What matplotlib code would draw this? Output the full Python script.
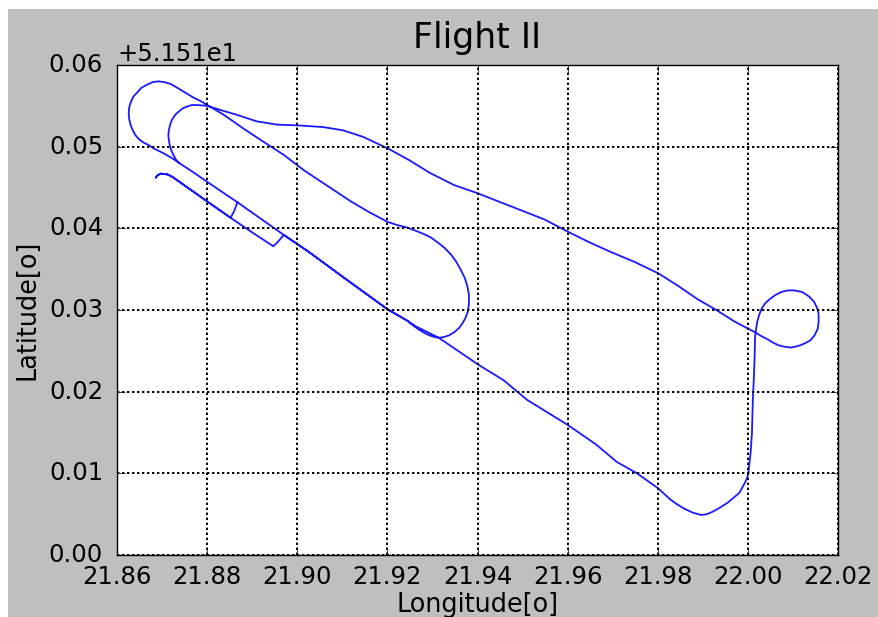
#!/usr/bin/env python3
# -*- coding: utf-8 -*-
"""
Flight II - ground track (longitude / latitude)
"""

import matplotlib
matplotlib.use("Agg")
import matplotlib.pyplot as plt
from matplotlib.patches import Rectangle
from matplotlib.ticker import ScalarFormatter, MultipleLocator

plt.style.use("classic")

# latitude offset used by the y axis formatter
LAT_BASE = 51.51

# track points, in flight order (lon, lat - LAT_BASE)
lon = [
    # taxi: connector 1, runway end with hook, back along the lower line
    21.8867, 21.8860, 21.8852, 21.8800, 21.8723, 21.8712, 21.8697, 21.8690, 21.8686,
    21.8690, 21.8697, 21.8712, 21.8723, 21.8800, 21.8852, 21.8900, 21.8947,
    # connector 2, then take-off run
    21.8958, 21.8970, 21.9026, 21.9100, 21.9200, 21.9244,
    # middle loop
    21.9257, 21.9270, 21.9282, 21.9293, 21.9304, 21.9315, 21.9326, 21.9337, 21.9349,
    21.9359, 21.9367, 21.9374, 21.9379, 21.9381, 21.9381, 21.9378, 21.9372, 21.9363,
    21.9353, 21.9341, 21.9327, 21.9311, 21.9296, 21.9281, 21.9263, 21.9244, 21.9222,
    21.9200, 21.9159, 21.9119, 21.9059, 21.9015, 21.8970, 21.8925, 21.8881, 21.8837,
    21.8800,
    # outer loop (north-west)
    21.8785, 21.8770, 21.8755, 21.8740, 21.8728, 21.8718, 21.8705, 21.8692, 21.8679,
    21.8667, 21.8654, 21.8644, 21.8636, 21.8631, 21.8627, 21.8626, 21.8627, 21.8630,
    21.8635, 21.8641, 21.8649, 21.8659, 21.8670, 21.8681, 21.8692, 21.8703, 21.8722,
    21.8738,
    # inner loop and long leg to the east
    21.8731, 21.8725, 21.8720, 21.8717, 21.8715, 21.8714, 21.8715, 21.8718, 21.8722,
    21.8729, 21.8737, 21.8746, 21.8755, 21.8766, 21.8777, 21.8800, 21.8829, 21.8866,
    21.8910, 21.8955, 21.9003, 21.9057, 21.9102, 21.9146, 21.9204, 21.9250, 21.9294,
    21.9348, 21.9400, 21.9474, 21.9548, 21.9600, 21.9644, 21.9696, 21.9748, 21.9801,
    21.9844, 21.9889, 21.9930, 21.9970, 22.0015,
    # east loop
    22.0030, 22.0044, 22.0056, 22.0067, 22.0081, 22.0096, 22.0112, 22.0126, 22.0139,
    22.0148, 22.0155, 22.0157, 22.0157, 22.0154, 22.0147, 22.0137, 22.0121, 22.0103,
    22.0088, 22.0074, 22.0060, 22.0048, 22.0038, 22.0031, 22.0025, 22.0021, 22.0018,
    22.0016,
    # south leg, south turn, return leg
    22.0015, 22.0013, 22.0011, 22.0009, 22.0006, 22.0001, 21.9998, 21.9993, 21.9987,
    21.9981, 21.9968, 21.9955, 21.9938, 21.9922, 21.9909, 21.9896, 21.9877, 21.9858,
    21.9843, 21.9828, 21.9814, 21.9800, 21.9754, 21.9709, 21.9664, 21.9601, 21.9510,
    21.9458, 21.9402, 21.9314, 21.9263, 21.9244,
    # landing along the runway, back to the taxi lines
    21.9200, 21.9100, 21.9026, 21.8970, 21.8867, 21.8800, 21.8763, 21.8738,
]
lat = [
    0.0432, 0.0421, 0.0413, 0.0433, 0.0463, 0.0466, 0.0467, 0.0465, 0.0462,
    0.0465, 0.0467, 0.0466, 0.0463, 0.0433, 0.0413, 0.0395, 0.0378,
    0.0384, 0.0392, 0.0371, 0.0341, 0.0301, 0.0287,
    0.0281, 0.0276, 0.0272, 0.0269, 0.0267, 0.0266, 0.0267, 0.0269, 0.0273,
    0.0278, 0.0284, 0.0291, 0.0299, 0.0308, 0.0318, 0.0328, 0.0339, 0.0349,
    0.0359, 0.0368, 0.0376, 0.0383, 0.0389, 0.0393, 0.0397, 0.0401, 0.0404,
    0.0408, 0.0420, 0.0433, 0.0455, 0.0471, 0.0490, 0.0506, 0.0522, 0.0539,
    0.0551,
    0.0556, 0.0560, 0.0565, 0.0570, 0.0574, 0.0577, 0.0579, 0.0580, 0.0579,
    0.0576, 0.0572, 0.0566, 0.0561, 0.0555, 0.0548, 0.0541, 0.0534, 0.0527,
    0.0520, 0.0514, 0.0509, 0.0505, 0.0502, 0.0498, 0.0495, 0.0492, 0.0486,
    0.0480,
    0.0484, 0.0490, 0.0496, 0.0502, 0.0508, 0.0514, 0.0520, 0.0527, 0.0533,
    0.0539, 0.0543, 0.0547, 0.0549, 0.0551, 0.0551, 0.0550, 0.0545, 0.0539,
    0.0531, 0.0527, 0.0526, 0.0524, 0.0520, 0.0512, 0.0497, 0.0483, 0.0468,
    0.0453, 0.0443, 0.0427, 0.0411, 0.0396, 0.0384, 0.0371, 0.0359, 0.0345,
    0.0330, 0.0313, 0.0300, 0.0286, 0.0273,
    0.0268, 0.0264, 0.0260, 0.0257, 0.0255, 0.0254, 0.0256, 0.0259, 0.0263,
    0.0269, 0.0277, 0.0286, 0.0295, 0.0302, 0.0310, 0.0316, 0.0322, 0.0324,
    0.0324, 0.0322, 0.0318, 0.0313, 0.0308, 0.0302, 0.0294, 0.0286, 0.0276,
    0.0267,
    0.0243, 0.0214, 0.0190, 0.0149, 0.0125, 0.0100, 0.0094, 0.0088, 0.0082,
    0.0076, 0.0070, 0.0064, 0.0058, 0.0053, 0.0050, 0.0049, 0.0052, 0.0057,
    0.0062, 0.0068, 0.0075, 0.0082, 0.0100, 0.0114, 0.0135, 0.0159, 0.0190,
    0.0214, 0.0233, 0.0266, 0.0280, 0.0287,
    0.0301, 0.0341, 0.0371, 0.0392, 0.0432, 0.0457, 0.0471, 0.0480,
]

fig = plt.figure(figsize=(8.79, 6.17), dpi=100)
fig.set_facecolor("#bfbfbf")
ax = fig.add_axes([117 / 879, 62 / 617, 721 / 879, 490 / 617])

ax.plot(lon, [LAT_BASE + v for v in lat], color="#1a1aff", lw=1.3,
        solid_joinstyle="round")

ax.set_xlim(21.86, 22.02)
ax.set_ylim(LAT_BASE, LAT_BASE + 0.06)
ax.xaxis.set_major_locator(MultipleLocator(0.02))
ax.yaxis.set_major_locator(MultipleLocator(0.01))
ax.xaxis.set_major_formatter(ScalarFormatter(useOffset=False))
ax.yaxis.set_major_formatter(ScalarFormatter(useOffset=LAT_BASE))

ax.grid(True, color="k", linestyle=(0, (1.7, 1.9)), linewidth=1.4)
ax.tick_params(axis="both", which="major", labelsize=17.5, length=6, direction="in")
ax.tick_params(axis="x", pad=7)
ax.tick_params(axis="y", pad=10)
ax.yaxis.get_offset_text().set_fontsize(17.5)

ax.set_title("Flight II", fontsize=25, pad=12)
ax.set_xlabel("Longitude[o]", fontsize=18.4, labelpad=2)
ax.set_ylabel("Latitude[o]", fontsize=18.4, labelpad=6)

# white strips on the top and left edge of the picture
fig.patches.append(Rectangle((0, 1 - 9 / 617), 1, 9 / 617, transform=fig.transFigure,
                             facecolor="white", edgecolor="none", zorder=-1))
fig.patches.append(Rectangle((0, 0), 8 / 879, 1, transform=fig.transFigure,
                             facecolor="white", edgecolor="none", zorder=-1))

fig.savefig("out.png", dpi=100, facecolor=fig.get_facecolor())
plt.close(fig)
